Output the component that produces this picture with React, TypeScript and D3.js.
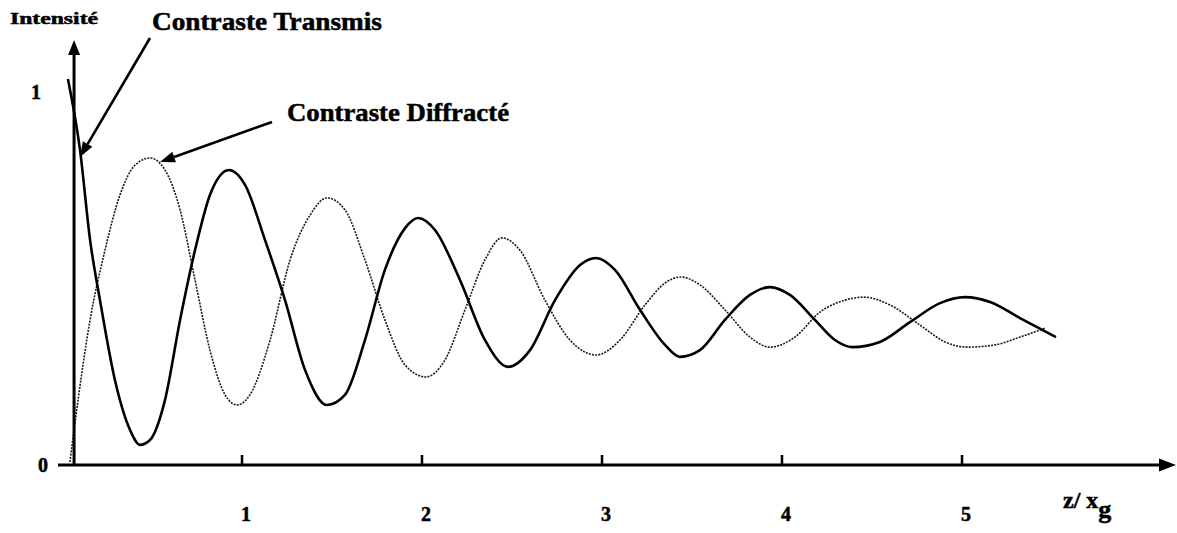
import React from 'react';
import * as d3 from 'd3';

// z / xg positions and intensities
const transZ = [0.033, 0.1, 0.156, 0.211, 0.294, 0.378, 0.433, 0.489, 0.572, 0.656, 0.739, 0.822, 0.928, 1.017, 1.128, 1.239, 1.35, 1.472, 1.572, 1.683, 1.794, 1.906, 1.978, 2.072, 2.211, 2.35, 2.478, 2.6, 2.739, 2.878, 2.967, 3.072, 3.211, 3.35, 3.433, 3.544, 3.683, 3.822, 3.933, 4.044, 4.183, 4.294, 4.389, 4.544, 4.711, 4.878, 5.017, 5.156, 5.322, 5.522];
const transI = [1.035, 0.845, 0.603, 0.442, 0.228, 0.094, 0.054, 0.067, 0.174, 0.389, 0.576, 0.724, 0.791, 0.751, 0.603, 0.442, 0.255, 0.161, 0.188, 0.335, 0.523, 0.635, 0.662, 0.63, 0.496, 0.335, 0.263, 0.308, 0.442, 0.536, 0.555, 0.523, 0.416, 0.322, 0.29, 0.308, 0.389, 0.456, 0.477, 0.456, 0.389, 0.335, 0.316, 0.33, 0.383, 0.434, 0.45, 0.437, 0.394, 0.343];

const diffZ = [0.044, 0.089, 0.156, 0.239, 0.322, 0.406, 0.489, 0.572, 0.656, 0.739, 0.822, 0.906, 0.972, 1.044, 1.156, 1.267, 1.378, 1.472, 1.572, 1.683, 1.794, 1.906, 2.022, 2.128, 2.239, 2.35, 2.444, 2.544, 2.683, 2.822, 2.967, 3.1, 3.239, 3.35, 3.439, 3.544, 3.683, 3.822, 3.933, 4.072, 4.211, 4.35, 4.456, 4.6, 4.767, 4.906, 5.028, 5.183, 5.322, 5.461];
const diffI = [0.008, 0.174, 0.389, 0.576, 0.724, 0.804, 0.823, 0.791, 0.684, 0.496, 0.308, 0.188, 0.161, 0.188, 0.335, 0.55, 0.67, 0.716, 0.684, 0.55, 0.389, 0.268, 0.236, 0.282, 0.416, 0.55, 0.609, 0.576, 0.442, 0.335, 0.295, 0.335, 0.429, 0.488, 0.504, 0.483, 0.416, 0.343, 0.316, 0.343, 0.41, 0.442, 0.45, 0.429, 0.375, 0.33, 0.316, 0.322, 0.343, 0.367];

const xTicks = [1, 2, 3, 4, 5];
const yTicks = [0, 1];

const W = 1177;
const H = 533;
const font = '"Liberation Serif", "Times New Roman", serif';

export default function App() {
  const x = d3.scaleLinear().domain([0, 6]).range([62, 62 + 180 * 6]);
  const y = d3.scaleLinear().domain([0, 1]).range([465, 92]);

  const axisX = x(0.067);
  const axisY = y(0);

  const line = d3.line<[number, number]>()
    .x(d => x(d[0]))
    .y(d => y(d[1]))
    .curve(d3.curveMonotoneX);

  const trans = transZ.map((z, i) => [z, transI[i]] as [number, number]);
  const diff = diffZ.map((z, i) => [z, diffI[i]] as [number, number]);

  // arrow helper for the annotations
  const arrow = (x1: number, y1: number, x2: number, y2: number, len = 15, half = 5.5) => {
    const a = Math.atan2(y2 - y1, x2 - x1);
    const bx = x2 - len * Math.cos(a);
    const by = y2 - len * Math.sin(a);
    const px = -Math.sin(a) * half;
    const py = Math.cos(a) * half;
    return (
      <g>
        <line x1={x1} y1={y1} x2={bx} y2={by} stroke="#000" strokeWidth={2.6} />
        <path d={`M${x2},${y2}L${bx + px},${by + py}L${bx - px},${by - py}Z`} fill="#000" />
      </g>
    );
  };

  const txt = { stroke: '#000', strokeWidth: 0.5 };

  return (
    <div style={{ position: 'fixed', left: 0, top: 0, width: W, height: H, background: '#fff' }}>
      <svg width={W} height={H} style={{ display: 'block' }} fontFamily={font} fontWeight="bold">
        {/* curves */}
        <path d={line(diff) || ''} fill="none" stroke="#1a1a1a" strokeWidth={1.6} strokeDasharray="2,1.2" />
        <path d={line(trans) || ''} fill="none" stroke="#000" strokeWidth={2.6} strokeLinejoin="round" />

        {/* axes */}
        <line x1={axisX} y1={axisY} x2={axisX} y2={54} stroke="#000" strokeWidth={3} />
        <path d={`M${axisX},40L${axisX - 6},55L${axisX + 6},55Z`} fill="#000" />
        <line x1={58} y1={axisY} x2={1160} y2={axisY} stroke="#000" strokeWidth={3} />
        <path d={`M1176,${axisY}L1159,${axisY - 6.5}L1159,${axisY + 6.5}Z`} fill="#000" />

        {xTicks.map(t => (
          <g key={t}>
            <line x1={x(t)} y1={axisY} x2={x(t)} y2={axisY - 10} stroke="#000" strokeWidth={2.5} />
            <text x={x(t) + 4} y={521} fontSize={20} textAnchor="middle" {...txt}>{t}</text>
          </g>
        ))}
        {yTicks.map(t => (
          <text key={t} x={t === 0 ? 48 : 41} y={y(t) + 7} fontSize={20} textAnchor="end" {...txt}>{t}</text>
        ))}

        {/* labels */}
        <text x={10} y={24} fontSize={17} textLength={88} lengthAdjust="spacingAndGlyphs" {...txt}>Intensité</text>
        <text x={152} y={30} fontSize={25} textLength={230} lengthAdjust="spacingAndGlyphs" {...txt}>Contraste Transmis</text>
        <text x={287} y={121} fontSize={25} textLength={222} lengthAdjust="spacingAndGlyphs" {...txt}>Contraste Diffracté</text>
        <text x={1063} y={508} fontSize={24} {...txt}>
          z/ x<tspan fontSize={26} dy={10}>g</tspan>
        </text>

        {/* annotation arrows */}
        {arrow(150, 38, 80, 157)}
        {arrow(272, 122, 160, 162)}
      </svg>
    </div>
  );
}
